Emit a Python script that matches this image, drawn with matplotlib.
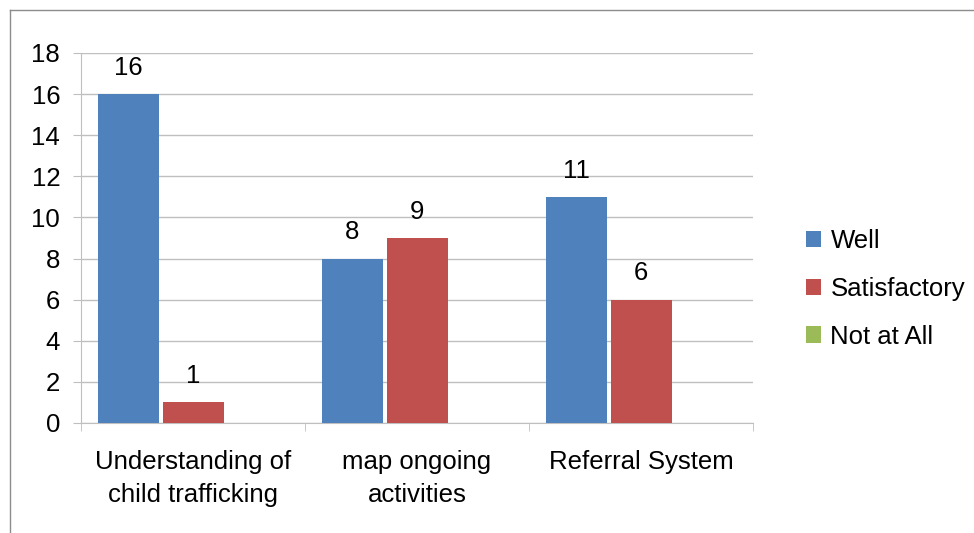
import matplotlib
matplotlib.use("Agg")
import matplotlib.pyplot as plt
from matplotlib.patches import Patch
from matplotlib.lines import Line2D
import numpy as np

categories = ["Understanding of\nchild trafficking", "map ongoing\nactivities", "Referral System"]
series_names = ["Well", "Satisfactory", "Not at All"]
well = [16, 8, 11]
satisfactory = [1, 9, 6]
not_at_all = [0, 0, 0]
colors = ["#4F81BD", "#C0504D", "#9BBB59"]
y_ticks = [0, 2, 4, 6, 8, 10, 12, 14, 16, 18]

plt.rcParams['font.family'] = ['Liberation Sans', 'DejaVu Sans']
FS = 18.5

W, H = 974, 533
fig = plt.figure(figsize=(W / 100, H / 100), dpi=100)
ax = fig.add_axes([81 / W, 1 - 423 / H, (753 - 81) / W, (423 - 53) / H])

x = np.arange(len(categories))
step = 65 / 224
bw = 61 / 224
all_series = [well, satisfactory, not_at_all]
for i, (vals, name, c) in enumerate(zip(all_series, series_names, colors)):
    pos = x + (i - 1) * step
    ax.bar(pos, vals, width=bw, color=c, zorder=3, label=name)
    for p, v in zip(pos, vals):
        if v > 0:
            ax.text(p, v + 0.7, str(v), ha='center', va='bottom', fontsize=FS, zorder=4)

ax.set_xlim(-0.5, 2.5)
ax.set_ylim(0, 18)
ax.set_yticks(y_ticks)
ax.yaxis.grid(True, color="#BFBFBF", linewidth=1.0, zorder=0)
ax.set_axisbelow(True)
for s in ['top', 'right']:
    ax.spines[s].set_visible(False)
ax.spines['left'].set_color('#BFBFBF')
ax.spines['bottom'].set_color('#BFBFBF')
ax.tick_params(axis='y', length=6, color='#BFBFBF', pad=9, labelsize=FS)
ax.set_xticks(x)
ax.set_xticklabels(categories, fontsize=FS, linespacing=1.45)
ax.set_xticks([-0.5, 0.5, 1.5, 2.5], minor=True)
ax.tick_params(axis='x', which='major', length=0, pad=19.5)
ax.tick_params(axis='x', which='minor', length=6, color='#BFBFBF')

handles = [Patch(facecolor=c, edgecolor='none') for c in colors]
fig.legend(handles, series_names, loc='center left',
           bbox_to_anchor=(806 / W, 1 - 289 / H), frameon=False, fontsize=FS,
           handlelength=0.6, handleheight=0.6, handletextpad=0.35,
           labelspacing=0.92, borderpad=0, borderaxespad=0)

# figure frame
fx = 9.5 / W
fy = 1 - 10 / H
fig.add_artist(Line2D([fx, fx], [0, fy], transform=fig.transFigure, color='#8C8C8C', linewidth=1))
fig.add_artist(Line2D([fx, 1], [fy, fy], transform=fig.transFigure, color='#8C8C8C', linewidth=1))

fig.savefig("out.png", dpi=100)
